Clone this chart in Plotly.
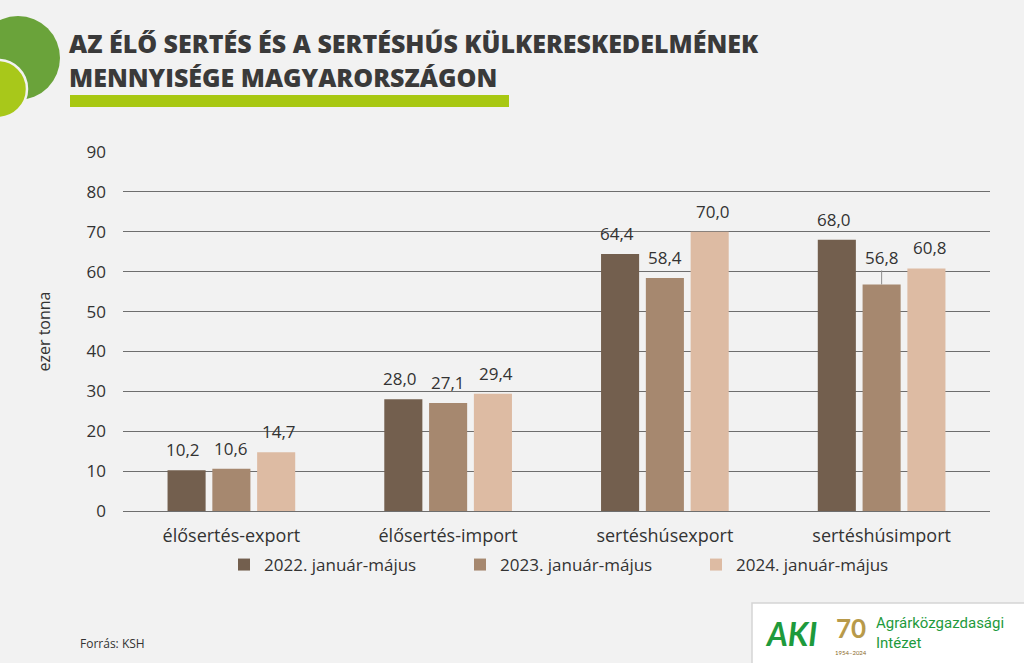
import plotly.graph_objects as go

categories = ["élősertés-export", "élősertés-import", "sertéshúsexport", "sertéshúsimport"]
series_names = ["2022. január-május", "2023. január-május", "2024. január-május"]
values_2022 = [10.2, 28.0, 64.4, 68.0]
values_2023 = [10.6, 27.1, 58.4, 56.8]
values_2024 = [14.7, 29.4, 70.0, 60.8]
colors = ["#735F4E", "#A6886F", "#DDBBA3"]
y_ticks = [0, 10, 20, 30, 40, 50, 60, 70, 80, 90]
title_lines = ["AZ ÉLŐ SERTÉS ÉS A SERTÉSHÚS KÜLKERESKEDELMÉNEK", "MENNYISÉGE MAGYARORSZÁGON"]

W, H = 1024, 663
ML, MR, MT, MB = 123, 34, 152, 152
PW, PH = W - ML - MR, H - MT - MB
TXT = "#333333"
FONT = "Open Sans"

def px(x):
    return (x - ML) / PW

def py(y):
    return 1 - (y - MT) / PH

fig = go.Figure()
all_vals = [values_2022, values_2023, values_2024]
for name, vals, col in zip(series_names, all_vals, colors):
    fig.add_trace(go.Bar(
        x=categories, y=vals, name=name, marker=dict(color=col, line=dict(width=0)),
    ))

annotations = []
offsets = [-48, 0, 48]
for i, vals in enumerate(all_vals):
    for c, v in zip(categories, vals):
        extra = 6 if (i == 1 and c == "sertéshúsimport") else 0
        annotations.append(dict(
            x=c, y=v, xref="x", yref="y", text=f"{v:.1f}".replace(".", ","),
            showarrow=False, xshift=offsets[i], yshift=7 + extra, yanchor="bottom",
            font=dict(size=17, color=TXT, family=FONT),
        ))

shapes = [
    dict(type="circle", xref="paper", yref="paper", x0=px(-24), x1=px(60), y0=py(16), y1=py(100),
         fillcolor="#6AA33A", line=dict(width=0), layer="above"),
    dict(type="circle", xref="paper", yref="paper", x0=px(-31), x1=px(27), y0=py(60), y1=py(118),
         fillcolor="#A8C81A", line=dict(width=2.5, color="#F2F2F2"), layer="above"),
    dict(type="rect", xref="paper", yref="paper", x0=px(70), x1=px(509), y0=py(95), y1=py(107),
         fillcolor="#A8C812", line=dict(width=0)),
    dict(type="rect", xref="paper", yref="paper", x0=px(752), x1=px(1030), y0=py(603), y1=py(670),
         fillcolor="#FFFFFF", line=dict(width=1.5, color="#D5D5D5")),
    dict(type="line", xref="x", yref="y", x0=categories[3], x1=categories[3], y0=values_2023[3], y1=values_2023[3] + 3.5,
         line=dict(color="#8C8C8C", width=1)),
]

for line, yc in zip(title_lines, [43, 77]):
    annotations.append(dict(
        text=line, xref="paper", yref="paper", x=px(68), y=py(yc), xanchor="left", yanchor="middle",
        showarrow=False, borderpad=0,
        font=dict(size=25, color="#3A3A3A", family="Open Sans", weight=800)))

annotations += [
    dict(text="Forrás: KSH", xref="paper", yref="paper", x=px(78), y=py(643), xanchor="left", yanchor="middle",
         showarrow=False, font=dict(size=12, color=TXT, family="Open Sans")),
    dict(text="<b><i>AKI</i></b>", xref="paper", yref="paper", x=px(763), y=py(633), xanchor="left", yanchor="middle",
         showarrow=False, font=dict(size=32, color="#1E9A3C", family="Lato", weight=900)),
    dict(text="Agrárközgazdasági<br>Intézet", xref="paper", yref="paper", x=px(874), y=py(633), xanchor="left",
         yanchor="middle", align="left", showarrow=False, font=dict(size=15, color="#1E9A3C", family="Roboto")),
    dict(text="<b>70</b>", xref="paper", yref="paper", x=px(851), y=py(628), xanchor="center", yanchor="middle",
         showarrow=False, font=dict(size=26, color="#B89A4A", family="Lato")),
    dict(text="1954–2024", xref="paper", yref="paper", x=px(851), y=py(652), xanchor="center", yanchor="middle",
         showarrow=False, font=dict(size=6, color="#8A6A2A", family="Lato")),
]

fig.update_layout(
    width=W, height=H,
    margin=dict(l=ML, r=MR, t=MT, b=MB),
    paper_bgcolor="#F2F2F2", plot_bgcolor="#F2F2F2",
    barmode="group", bargap=0.38, bargroupgap=0.15,
    font=dict(family=FONT, color=TXT),
    showlegend=True,
    legend=dict(orientation="h", x=px(224), xanchor="left", y=py(565), yanchor="middle",
                font=dict(size=17, color=TXT, family=FONT), itemwidth=30, traceorder="normal",
                entrywidth=191, entrywidthmode="pixels", bgcolor="rgba(0,0,0,0)"),
    shapes=shapes, annotations=annotations,
    xaxis=dict(showgrid=False, showline=False, ticks="", ticklabelstandoff=12,
               tickfont=dict(size=18, color=TXT, family=FONT)),
    yaxis=dict(range=[0, 90], tickvals=y_ticks, showgrid=True, gridcolor="#6E6E6E", gridwidth=1,
               zeroline=True, zerolinecolor="#6E6E6E", zerolinewidth=1,
               tickfont=dict(size=17, color=TXT, family=FONT), ticklabelstandoff=16,
               title=dict(text="ezer tonna", font=dict(size=16, color=TXT, family=FONT), standoff=31)),
)

fig.write_html("out.html", config={"displayModeBar": False},
               post_script="document.body.style.margin='0';")
